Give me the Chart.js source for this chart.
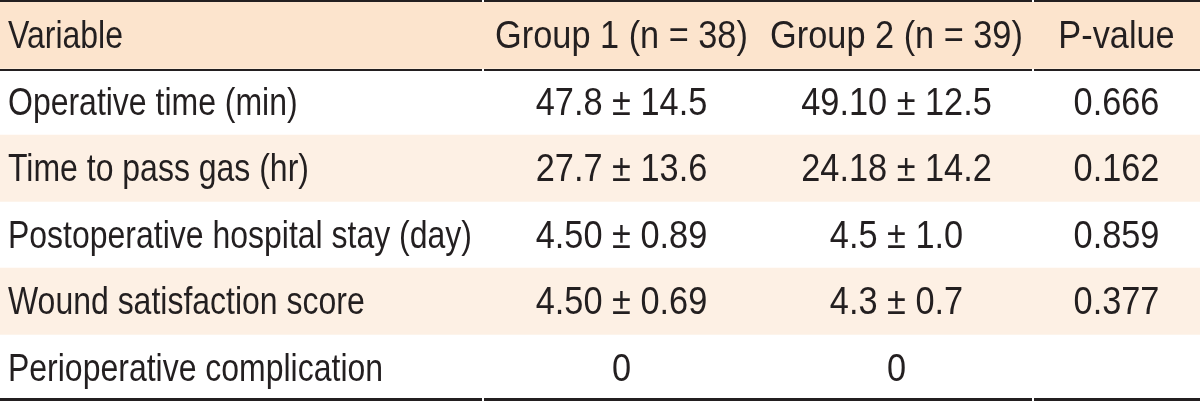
<!DOCTYPE html>
<html>
<head>
<meta charset="utf-8">
<title>Group comparison table</title>
<script src="https://cdn.jsdelivr.net/npm/chart.js@4/dist/chart.umd.min.js"></script>
<style>
  html, body { margin: 0; padding: 0; background: #ffffff; }
  #wrap { width: 1200px; height: 401px; }
</style>
</head>
<body>
<div id="wrap"><canvas id="table" width="1200" height="401"></canvas></div>
<script>
// table contents
const headers = ['Variable', 'Group 1 (n = 38)', 'Group 2 (n = 39)', 'P-value'];
const rowLabels = [
  'Operative time (min)',
  'Time to pass gas (hr)',
  'Postoperative hospital stay (day)',
  'Wound satisfaction score',
  'Perioperative complication'
];
const group1Values = ['47.8 \u00b1 14.5', '27.7 \u00b1 13.6', '4.50 \u00b1 0.89', '4.50 \u00b1 0.69', '0'];
const group2Values = ['49.10 \u00b1 12.5', '24.18 \u00b1 14.2', '4.5 \u00b1 1.0', '4.3 \u00b1 0.7', '0'];
const pValues = ['0.666', '0.162', '0.859', '0.377', ''];

// layout (x scale runs 0..1200)
const colEdges = [0, 483, 760, 1033, 1200];
const ruleBreaks = [483, 1033];
const textColor = '#231f20';
const headerFill = '#fce4cd';
const stripeFill = '#fdf0e4';
const fontFamily = '"Liberation Sans", Arial, sans-serif';
const fontSize = 39;

const categories = ['header'].concat(rowLabels);
const columns = [rowLabels, group1Values, group2Values, pValues];

// background bands: header + every second body row
const bandData = categories.map((_, i) => (i === 0 || i % 2 === 0) ? [colEdges[0], colEdges[colEdges.length - 1]] : null);
const bandColors = categories.map((_, i) => i === 0 ? headerFill : stripeFill);

function drawText(ctx, text, x, y, align, squeeze) {
  ctx.save();
  ctx.translate(x, y);
  ctx.scale(squeeze, 1);
  ctx.textAlign = align;
  ctx.fillText(text, 0, 0);
  ctx.restore();
}

function drawRule(ctx, xScale, y, width) {
  const stops = [colEdges[0]].concat(ruleBreaks, [colEdges[colEdges.length - 1]]);
  ctx.fillStyle = textColor;
  for (let i = 0; i < stops.length - 1; i++) {
    const x0 = xScale.getPixelForValue(stops[i]) + (i > 0 ? 1 : 0);
    const x1 = xScale.getPixelForValue(stops[i + 1]) - (i < stops.length - 2 ? 1 : 0);
    ctx.fillRect(x0, y, x1 - x0, width);
  }
}

const tablePlugin = {
  id: 'tableText',
  afterDatasetsDraw(chart) {
    const ctx = chart.ctx;
    const x = chart.scales.x;
    const y = chart.scales.y;
    const rowH = y.getPixelForValue(1) - y.getPixelForValue(0);

    ctx.save();
    ctx.font = fontSize + 'px ' + fontFamily;
    ctx.fillStyle = textColor;
    ctx.textBaseline = 'alphabetic';

    categories.forEach((_, r) => {
      const baseY = y.getPixelForValue(r) + 13;
      for (let c = 0; c < columns.length; c++) {
        const text = r === 0 ? headers[c] : columns[c][r - 1];
        if (!text) continue;
        if (c === 0) {
          drawText(ctx, text, x.getPixelForValue(colEdges[0]) + 8, baseY, 'left', 0.82);
        } else {
          const mid = (colEdges[c] + colEdges[c + 1]) / 2;
          drawText(ctx, text, x.getPixelForValue(mid), baseY, 'center', 0.88);
        }
      }
    });

    // horizontal rules: top, under header, bottom
    const top = y.getPixelForValue(0) - rowH / 2;
    const bottom = y.getPixelForValue(categories.length - 1) + rowH / 2;
    drawRule(ctx, x, 0, 2);
    drawRule(ctx, x, Math.round(top + rowH), 2);
    drawRule(ctx, x, Math.round(bottom) - 3, 3);
    ctx.restore();
  }
};

new Chart(document.getElementById('table'), {
  type: 'bar',
  data: {
    labels: categories,
    datasets: [{
      data: bandData,
      backgroundColor: bandColors,
      borderWidth: 0,
      barPercentage: 1,
      categoryPercentage: 1
    }]
  },
  options: {
    indexAxis: 'y',
    responsive: false,
    animation: false,
    devicePixelRatio: 1,
    layout: { padding: { top: 2, right: 0, bottom: 0, left: 0 } },
    plugins: {
      legend: { display: false },
      tooltip: { enabled: false }
    },
    scales: {
      x: { type: 'linear', min: colEdges[0], max: colEdges[colEdges.length - 1], display: false },
      y: { type: 'category', display: false }
    }
  },
  plugins: [tablePlugin]
});
</script>
</body>
</html>
